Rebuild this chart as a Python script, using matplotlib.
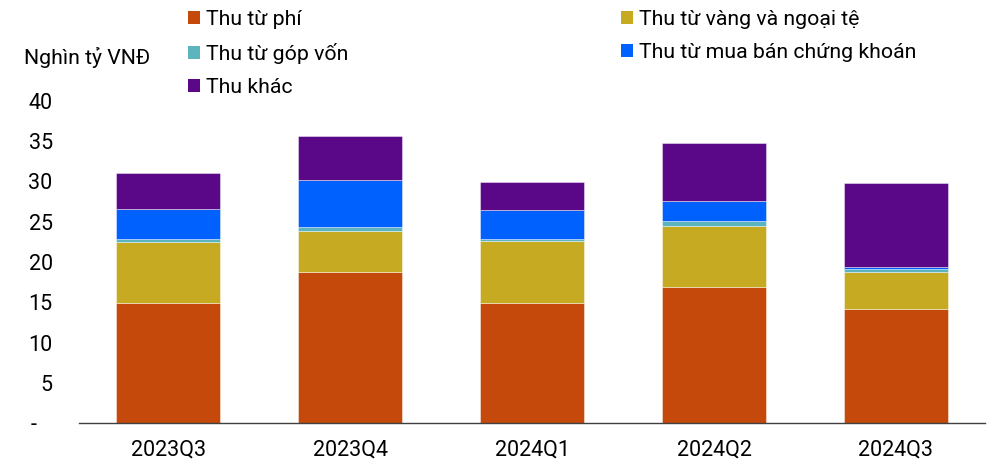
import matplotlib
matplotlib.use("Agg")
import matplotlib.pyplot as plt
import numpy as np
from matplotlib.patches import Patch

plt.rcParams['font.family'] = ['Roboto', 'DejaVu Sans']

categories = ["2023Q3", "2023Q4", "2024Q1", "2024Q2", "2024Q3"]
thu_phi = [14.9, 18.8, 14.9, 16.9, 14.2]
thu_vang = [7.6, 5.1, 7.7, 7.6, 4.5]
thu_gop_von = [0.35, 0.5, 0.3, 0.6, 0.4]
thu_chung_khoan = [3.7, 5.8, 3.5, 2.5, 0.25]
thu_khac = [4.5, 5.4, 3.5, 7.2, 10.5]

series = [
    ("Thu từ phí", thu_phi, "#C4490A"),
    ("Thu từ vàng và ngoại tệ", thu_vang, "#C6AA22"),
    ("Thu từ góp vốn", thu_gop_von, "#5CB4BE"),
    ("Thu từ mua bán chứng khoán", thu_chung_khoan, "#0061FE"),
    ("Thu khác", thu_khac, "#5B0888"),
]

yticks = [0, 5, 10, 15, 20, 25, 30, 35, 40]
ytick_labels = ["-   ", "5", "10", "15", "20", "25", "30", "35", "40"]

fig = plt.figure(figsize=(9.89, 4.62), dpi=100)
ax = fig.add_axes([0.080, 0.0844, 0.916, 0.697])

x = np.arange(len(categories))
bottom = np.zeros(len(categories))
handles = {}
for name, vals, col in series:
    ax.bar(x, vals, width=0.57, bottom=bottom, color=col,
           edgecolor=(1, 1, 1, 0.5), linewidth=0.6)
    bottom += np.array(vals)
    handles[name] = Patch(facecolor=col, edgecolor='none', label=name)

ax.set_xlim(-0.49, 4.49)
ax.set_ylim(0, 40)
ax.set_xticks(x)
ax.set_xticklabels(categories, fontsize=15.5)
ax.set_yticks(yticks)
ax.set_yticklabels(ytick_labels, fontsize=15.5)
ax.tick_params(axis='x', length=0, pad=12)
ax.tick_params(axis='y', length=0, pad=19)
for s in ['top', 'right', 'left']:
    ax.spines[s].set_visible(False)
ax.spines['bottom'].set_color('#404040')
ax.spines['bottom'].set_linewidth(1.0)

fig.text(24/989, 1 - 57/462, "Nghìn tỷ VNĐ", fontsize=15.3, va='center', ha='left')

leg_kw = dict(frameon=False, fontsize=15.3, handlelength=0.57, handleheight=0.57,
              handletextpad=0.3, labelspacing=0.66, borderaxespad=0, borderpad=0)
l1 = fig.legend(handles=[handles["Thu từ phí"], handles["Thu từ góp vốn"], handles["Thu khác"]],
                loc='upper left', bbox_to_anchor=(188/989, 1 - 10/462), **leg_kw)
l2 = fig.legend(handles=[handles["Thu từ vàng và ngoại tệ"], handles["Thu từ mua bán chứng khoán"]],
                loc='upper left', bbox_to_anchor=(621/989, 1 - 10/462), **leg_kw)

fig.savefig("out.png", dpi=100)
